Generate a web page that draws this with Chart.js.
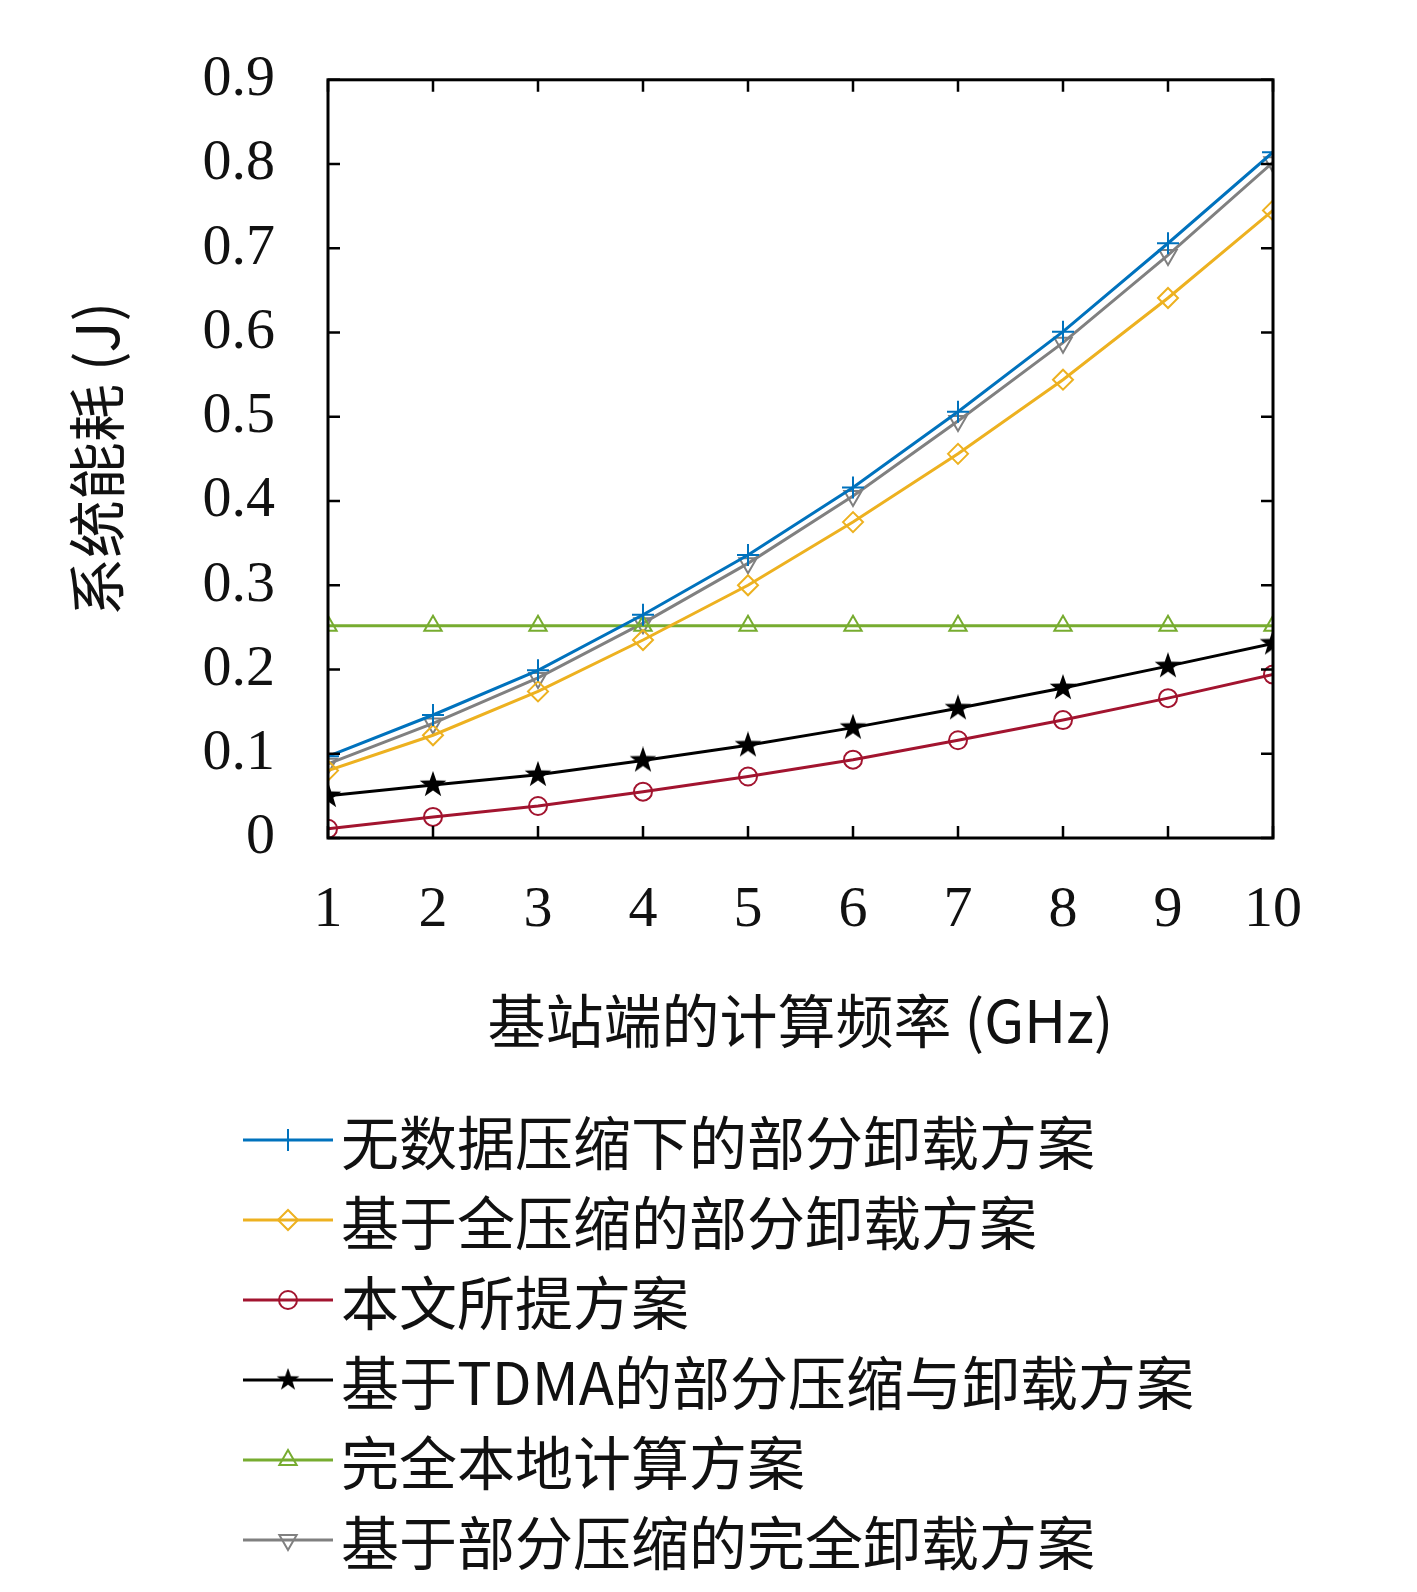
<!DOCTYPE html>
<html><head><meta charset="utf-8">
<script src="https://cdn.jsdelivr.net/npm/chart.js@4"></script>
<style>
body{margin:0;background:#fff;width:1417px;height:1592px;overflow:hidden;position:relative}
#wrap{position:absolute;left:0;top:0;width:1417px;height:1060px}
#legend{position:absolute;left:243px;top:1100px;font-family:"Noto Sans CJK SC","Liberation Serif",serif;font-size:58px;color:#111}
.row{height:80px;display:flex;align-items:center}
.row canvas{margin-right:8px}
</style></head><body>
<div id="wrap"><canvas id="c"></canvas></div>
<div id="legend"></div>
<script>
// x values: base station computing frequency (GHz)
const freqs = [1, 2, 3, 4, 5, 6, 7, 8, 9, 10];
const noCompress   = [0.097, 0.146, 0.199, 0.265, 0.336, 0.416, 0.506, 0.601, 0.706, 0.814];
const fullCompress = [0.080, 0.122, 0.174, 0.235, 0.300, 0.375, 0.456, 0.544, 0.641, 0.745];
const proposed     = [0.011, 0.025, 0.038, 0.055, 0.073, 0.093, 0.116, 0.140, 0.166, 0.194];
const tdma         = [0.050, 0.063, 0.075, 0.092, 0.110, 0.131, 0.154, 0.178, 0.204, 0.231];
const localOnly    = [0.252, 0.252, 0.252, 0.252, 0.252, 0.252, 0.252, 0.252, 0.252, 0.252];
const fullOffload  = [0.088, 0.136, 0.190, 0.255, 0.326, 0.406, 0.495, 0.588, 0.692, 0.802];
const yTicks = [0, 0.1, 0.2, 0.3, 0.4, 0.5, 0.6, 0.7, 0.8, 0.9];
const names = ['无数据压缩下的部分卸载方案', '基于全压缩的部分卸载方案', '本文所提方案',
  '基于TDMA的部分压缩与卸载方案', '完全本地计算方案', '基于部分压缩的完全卸载方案'];

function starImg(size, color) {
  const c = document.createElement('canvas');
  c.width = c.height = size;
  const g = c.getContext('2d');
  g.fillStyle = color;
  g.beginPath();
  for (let i = 0; i < 10; i++) {
    const r = i % 2 ? size * 0.2 : size * 0.5;
    const a = -Math.PI / 2 + i * Math.PI / 5;
    g.lineTo(size / 2 + r * Math.cos(a), size / 2 + r * Math.sin(a));
  }
  g.closePath(); g.fill();
  return c;
}
const star = starImg(28, '#000');

const styles = [
  {color: '#0072BD', point: 'cross', rot: 0, r: 11},
  {color: '#EDB120', point: 'rectRot', rot: 0, r: 10},
  {color: '#A2142F', point: 'circle', rot: 0, r: 9},
  {color: '#000000', point: star, rot: 0, r: 12},
  {color: '#77AC30', point: 'triangle', rot: 0, r: 10},
  {color: '#808080', point: 'triangle', rot: 180, r: 10}
];
const series = [noCompress, fullCompress, proposed, tdma, localOnly, fullOffload];

const serif = '"Liberation Serif","DejaVu Serif",serif';

const frame = {
  id: 'frame',
  afterDatasetsDraw(chart) {
    const {ctx, chartArea: a, scales: {x, y}} = chart;
    ctx.save();
    ctx.strokeStyle = '#000'; ctx.lineWidth = 3;
    ctx.strokeRect(a.left, a.top, a.right - a.left, a.bottom - a.top);
    ctx.lineWidth = 2.5;
    ctx.beginPath();
    freqs.forEach(f => {
      const px = x.getPixelForValue(f);
      ctx.moveTo(px, a.bottom); ctx.lineTo(px, a.bottom - 12);
      ctx.moveTo(px, a.top); ctx.lineTo(px, a.top + 12);
    });
    yTicks.forEach(v => {
      const py = y.getPixelForValue(v);
      ctx.moveTo(a.left, py); ctx.lineTo(a.left + 12, py);
      ctx.moveTo(a.right, py); ctx.lineTo(a.right - 12, py);
    });
    ctx.stroke();
    ctx.restore();
  }
};

new Chart(document.getElementById('c'), {
  type: 'line',
  data: {
    datasets: series.map((s, i) => ({
      label: names[i],
      data: s.map((v, k) => ({x: freqs[k], y: v})),
      borderColor: styles[i].color,
      backgroundColor: 'rgba(0,0,0,0)',
      borderWidth: 3,
      pointStyle: styles[i].point,
      pointRotation: styles[i].rot,
      pointRadius: styles[i].r,
      pointBorderWidth: 2,
      tension: 0
    }))
  },
  options: {
    responsive: true, maintainAspectRatio: false, animation: false,
    layout: {padding: {top: 0, right: 144, left: 0, bottom: 0}},
    plugins: {legend: {display: false}, tooltip: {enabled: false}},
    scales: {
      x: {
        type: 'linear', min: 1, max: 10,
        afterFit(s) { s.height = 222; },
        afterBuildTicks(s) { s.ticks = freqs.map(v => ({value: v})); },
        grid: {display: false},
        border: {display: false},
        ticks: {color: '#111', font: {family: serif, size: 58}, padding: 30},
        title: {display: true, text: '基站端的计算频率 (GHz)', color: '#111',
          font: {family: '"Noto Sans CJK SC",serif', size: 58}, padding: {top: 30}}
      },
      y: {
        min: 0, max: 0.9,
        afterFit(s) { s.width = 328; },
        afterBuildTicks(s) { s.ticks = yTicks.map(v => ({value: v})); },
        grid: {display: false},
        border: {display: false},
        ticks: {color: '#111', font: {family: serif, size: 58}, padding: 45,
          callback: v => v === 0 ? '0' : v.toFixed(1)},
        title: {display: true, text: '系统能耗 (J)', color: '#111',
          font: {family: '"Noto Sans CJK SC",serif', size: 58}, padding: {top: 62, bottom: 40}}
      }
    }
  },
  plugins: [frame]
});

// legend: short line with marker, then label
const legend = document.getElementById('legend');
styles.forEach((st, i) => {
  const row = document.createElement('div'); row.className = 'row';
  const cv = document.createElement('canvas'); cv.width = 90; cv.height = 40;
  const g = cv.getContext('2d');
  g.strokeStyle = st.color; g.lineWidth = 3;
  g.beginPath(); g.moveTo(0, 20); g.lineTo(90, 20); g.stroke();
  g.lineWidth = 2; g.fillStyle = 'rgba(0,0,0,0)';
  if (typeof st.point === 'string') {
    Chart.helpers.drawPoint(g, {pointStyle: st.point, radius: st.r, borderWidth: 2, rotation: st.rot}, 45, 20);
  } else {
    g.drawImage(st.point, 45 - 12, 20 - 12, 24, 24);
  }
  const t = document.createElement('span'); t.textContent = names[i];
  row.appendChild(cv); row.appendChild(t); legend.appendChild(row);
});
legend.style.top = '1100px';
</script>
</body></html>
